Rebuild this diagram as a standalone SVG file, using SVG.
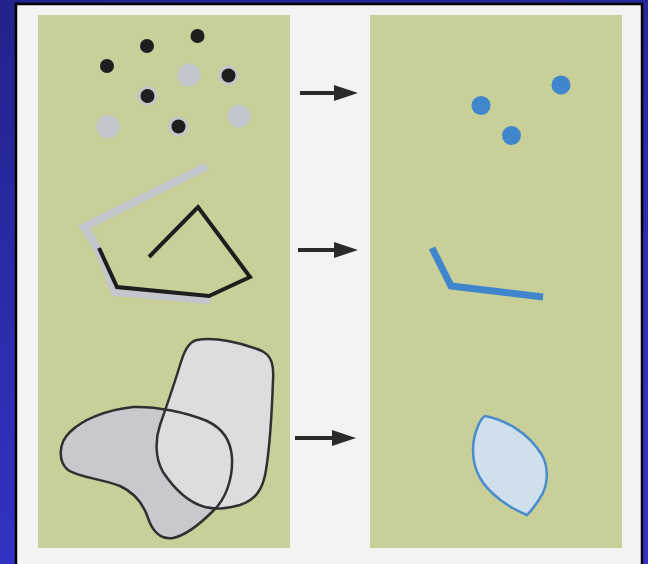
<svg xmlns="http://www.w3.org/2000/svg" width="648" height="564" viewBox="0 0 648 564">
<defs>
<linearGradient id="bg" x1="0" y1="0" x2="0.3" y2="1">
<stop offset="0" stop-color="#22228c"/>
<stop offset="1" stop-color="#3434c8"/>
</linearGradient>
<marker id="ah" viewBox="0 0 24 16" refX="2" refY="8" markerWidth="24" markerHeight="16" markerUnits="userSpaceOnUse" orient="auto">
<path d="M0,0 L24,8 L0,16 Z" fill="#2a2a2a"/>
</marker>
<style>
.panel{fill:#c8cf98}
.blk{fill:#1e1e1e}
.gry{fill:#c3c6cc}
.halo{fill:#c3c6cc}
.blu{fill:#3f86cc}
.arrow{stroke:#2a2a2a;stroke-width:4;fill:none;marker-end:url(#ah)}
.outline{stroke:#303030;stroke-width:2.5;fill:none}
</style>
</defs>
<rect width="648" height="564" fill="url(#bg)"/>
<rect x="16" y="4" width="626" height="570" fill="#f3f3f4" stroke="#000" stroke-width="2.5"/>
<rect class="panel" x="38" y="15" width="252" height="533"/>
<rect class="panel" x="370" y="15" width="252" height="533"/>

<g id="points-left">
<circle class="gry" cx="189" cy="75" r="11.5"/>
<circle class="gry" cx="239" cy="116" r="11.5"/>
<circle class="gry" cx="108" cy="126.5" r="11.5"/>
<circle class="halo" cx="228.5" cy="75.5" r="10"/>
<circle class="halo" cx="147.5" cy="96" r="10"/>
<circle class="halo" cx="178.5" cy="126.5" r="10"/>
<circle class="blk" cx="197.5" cy="36" r="7"/>
<circle class="blk" cx="147" cy="46" r="7"/>
<circle class="blk" cx="107" cy="66" r="7"/>
<circle class="blk" cx="228.5" cy="75.5" r="7"/>
<circle class="blk" cx="147.5" cy="96" r="7"/>
<circle class="blk" cx="178.5" cy="126.5" r="7"/>
</g>

<g id="lines-left">
<path d="M207,166 L84,227 L99,251 L115,292 L210,300" stroke="#c3c6cc" stroke-width="8" fill="none" stroke-linejoin="miter"/>
<path d="M99,248 L117,287 L209,296 L250,277 L198,207 L149,257" stroke="#1e1e1e" stroke-width="4" fill="none" stroke-linejoin="miter"/>
</g>

<g id="polygons-left">
<path d="M133,407 C155,406 185,412 207,421 C222,428 231,440 232,458 C233,480 225,500 213,511 C203,521 188,535 173,538 C160,540 152,530 148,518 C143,503 133,492 120,486 C100,478 80,478 68,470 C58,462 58,443 70,432 C82,420 105,410 133,407 Z" fill="#c8c9cd"/>
<path d="M197,340 C215,337 240,342 262,351 C272,356 274,366 273,380 C272,410 270,445 266,470 C263,490 255,500 240,505 C228,508 218,510 205,507 C190,503 175,490 163,472 C155,458 155,440 160,425 C167,405 174,385 180,365 C184,352 188,342 197,340 Z" fill="#dcdddf"/>
<path class="outline" d="M133,407 C155,406 185,412 207,421 C222,428 231,440 232,458 C233,480 225,500 213,511 C203,521 188,535 173,538 C160,540 152,530 148,518 C143,503 133,492 120,486 C100,478 80,478 68,470 C58,462 58,443 70,432 C82,420 105,410 133,407 Z"/>
<path class="outline" d="M197,340 C215,337 240,342 262,351 C272,356 274,366 273,380 C272,410 270,445 266,470 C263,490 255,500 240,505 C228,508 218,510 205,507 C190,503 175,490 163,472 C155,458 155,440 160,425 C167,405 174,385 180,365 C184,352 188,342 197,340 Z"/>
</g>

<g id="points-right">
<circle class="blu" cx="561" cy="85" r="9.5"/>
<circle class="blu" cx="481" cy="105.5" r="9.5"/>
<circle class="blu" cx="511.5" cy="135.5" r="9.5"/>
</g>

<g id="line-right">
<path d="M432,248 L451,286 L543,297" stroke="#3f86cc" stroke-width="7" fill="none" stroke-linejoin="miter"/>
</g>

<g id="polygon-right">
<path d="M485,416 C505,420 528,432 542,455 C550,470 547,488 540,498 C535,506 530,512 527,515 C510,508 490,495 480,478 C470,460 472,440 478,426 C480,421 482,418 485,416 Z" fill="#cfe0ec" stroke="#4a8ccc" stroke-width="2.5"/>
</g>

<g id="connectors">
<line class="arrow" x1="300" y1="93" x2="336" y2="93"/>
<line class="arrow" x1="298" y1="250" x2="336" y2="250"/>
<line class="arrow" x1="295" y1="438" x2="334" y2="438"/>
</g>
</svg>
